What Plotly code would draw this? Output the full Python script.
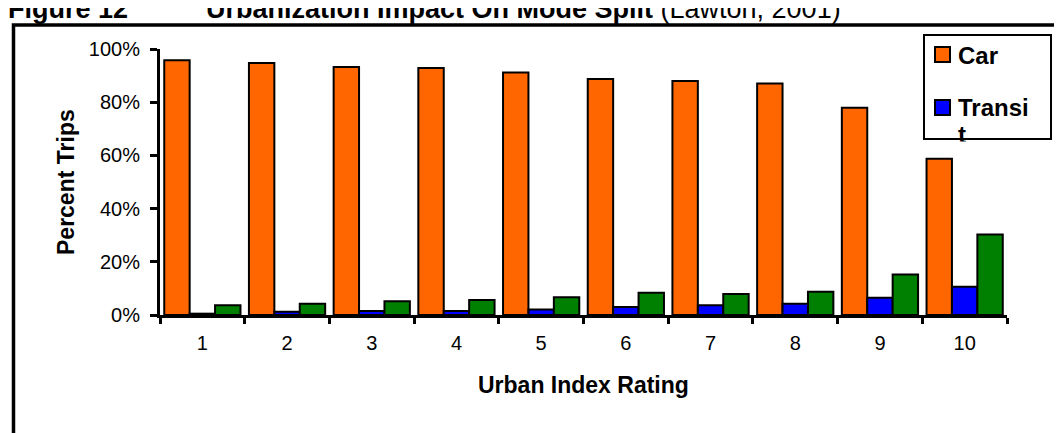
import plotly.graph_objects as go

# ---- data (percent of trips) ----
categories = ["1", "2", "3", "4", "5", "6", "7", "8", "9", "10"]
car = [95.8, 94.7, 93.2, 92.9, 91.2, 88.7, 88.0, 87.0, 77.9, 58.7]
transit = [0.5, 1.2, 1.5, 1.5, 2.1, 3.0, 3.7, 4.2, 6.5, 10.6]
walk = [3.7, 4.2, 5.2, 5.6, 6.7, 8.4, 7.9, 8.7, 15.2, 30.3]
series_names = ["Car", "Transit", "Walk"]
y_ticks = [0, 20, 40, 60, 80, 100]
y_tick_labels = ["0%", "20%", "40%", "60%", "80%", "100%"]

colors = ["#FF6600", "#0000FF", "#008000"]
FONT = "Arial, Liberation Sans, sans-serif"

W, H = 1062, 433
L, R, T, B = 152, 999, 41, 307
def fx(px):
    return (px - L) / (R - L)
def fy(py):
    return (B - py) / (B - T)

fig = go.Figure()
for name, vals, col in zip(series_names, [car, transit, walk], colors):
    fig.add_trace(go.Bar(
        x=categories, y=vals, name=name,
        marker=dict(color=col, line=dict(color="black", width=2)),
        showlegend=False,
    ))

fig.update_layout(
    width=W, height=H,
    margin=dict(l=L, r=W - R, t=T, b=H - B, pad=0),
    paper_bgcolor="white", plot_bgcolor="white",
    barmode="group", bargap=0.1, bargroupgap=0,
    font=dict(family=FONT, color="black"),
    xaxis=dict(
        type="category", tickson="boundaries", ticks="outside", ticklen=6,
        tickwidth=2.5, tickcolor="black", showline=True, linecolor="black",
        linewidth=3, showgrid=False, tickfont=dict(size=20, family=FONT),
        ticklabelstandoff=8,
    ),
    yaxis=dict(
        range=[0, 100], tickmode="array", tickvals=y_ticks, ticktext=y_tick_labels,
        ticks="outside", ticklen=7, tickwidth=2.5, tickcolor="black", showline=True,
        linecolor="black", linewidth=3, showgrid=False, zeroline=False,
        tickfont=dict(size=20, family=FONT), ticklabelstandoff=6,
    ),
)

ann = []
# axis titles
ann.append(dict(text="<b>Percent Trips</b>", x=fx(58), y=fy(174), xref="paper", yref="paper",
                textangle=-90, showarrow=False, font=dict(size=23, family=FONT),
                xanchor="center", yanchor="middle"))
ann.append(dict(text="<b>Urban Index Rating</b>", x=fx(575), y=fy(377), xref="paper", yref="paper",
                showarrow=False, font=dict(size=23, family=FONT),
                xanchor="center", yanchor="middle"))
# figure title (top cut off)
ann.append(dict(text="<b>Figure 12</b>", x=fx(-2), y=fy(1), xref="paper", yref="paper",
                showarrow=False, font=dict(size=27, family=FONT),
                xanchor="left", yanchor="middle"))
ann.append(dict(text="<b>Urbanization Impact On Mode Split</b> (Lawton, 2001)", x=fx(196), y=fy(1),
                xref="paper", yref="paper", showarrow=False, font=dict(size=27, family=FONT),
                xanchor="left", yanchor="middle"))
# legend text
ann.append(dict(text="<b>" + series_names[0] + "</b>", x=fx(948), y=fy(47), xref="paper", yref="paper",
                showarrow=False, font=dict(size=24, family=FONT), xanchor="left", yanchor="middle"))
ann.append(dict(text="<b>" + series_names[1][:-1] + "</b>", x=fx(948), y=fy(99), xref="paper", yref="paper",
                showarrow=False, font=dict(size=24, family=FONT), xanchor="left", yanchor="middle"))
ann.append(dict(text="<b>" + series_names[1][-1] + "</b>", x=fx(948), y=fy(126), xref="paper", yref="paper",
                showarrow=False, font=dict(size=24, family=FONT), xanchor="left", yanchor="middle"))
# cover for the clipped "t"
ann.append(dict(text=" ", x=fx(945), y=fy(132.5), xref="paper", yref="paper", showarrow=False,
                width=24, height=14, bgcolor="white", xanchor="left", yanchor="top", borderpad=0))
fig.update_layout(annotations=ann)

shapes = []
# outer frame (left + top)
shapes.append(dict(type="path", xref="paper", yref="paper",
                   path=f"M {fx(5.5)},{fy(440)} L {fx(5.5)},{fy(17)} L {fx(1070)},{fy(17)}",
                   line=dict(color="black", width=3.5)))
# legend box
shapes.append(dict(type="rect", xref="paper", yref="paper", x0=fx(916), x1=fx(1043), y0=fy(131), y1=fy(27),
                   line=dict(color="black", width=2), fillcolor="white", layer="above"))
# legend swatches
shapes.append(dict(type="rect", xref="paper", yref="paper", x0=fx(927), x1=fx(942), y0=fy(54), y1=fy(39),
                   line=dict(color="black", width=2), fillcolor=colors[0], layer="above"))
shapes.append(dict(type="rect", xref="paper", yref="paper", x0=fx(927), x1=fx(942), y0=fy(107), y1=fy(92),
                   line=dict(color="black", width=2), fillcolor=colors[1], layer="above"))
fig.update_layout(shapes=shapes)

fig.write_html("out.html")
